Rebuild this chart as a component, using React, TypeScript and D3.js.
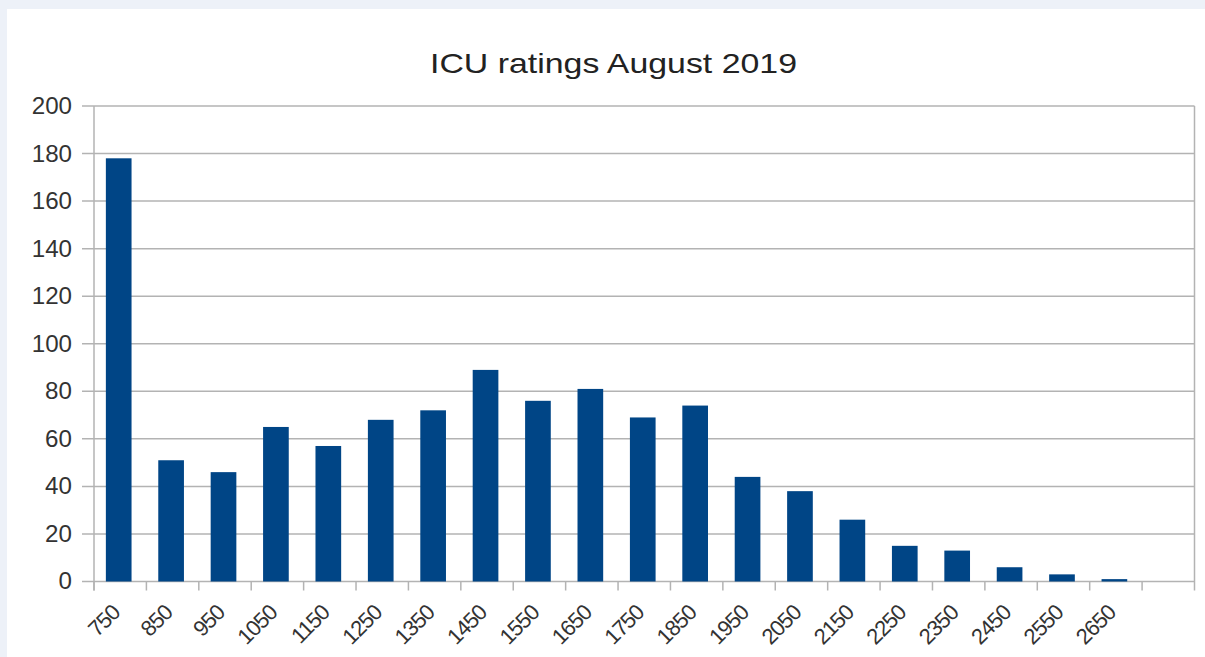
import React from "react";
import * as d3 from "d3";

const categories = ["750","850","950","1050","1150","1250","1350","1450","1550","1650","1750","1850","1950","2050","2150","2250","2350","2450","2550","2650",""];
const counts = [178,51,46,65,57,68,72,89,76,81,69,74,44,38,26,15,13,6,3,1,0];
const yTicks = [0,20,40,60,80,100,120,140,160,180,200];
const title = "ICU ratings August 2019";

const W = 1205, H = 657;
const L = 94, R = 1194.5, T = 106, B = 581.5;

export default function App() {
  const keys = categories.map((c, i) => i + ":" + c);
  const x = d3.scaleBand<string>().domain(keys).range([L, R]).paddingInner(0).paddingOuter(0);
  const y = d3.scaleLinear().domain([0, 200]).range([B, T]);
  const bw = x.bandwidth();
  const barW = bw * 0.49;
  const font = "'Liberation Sans', Arial, sans-serif";
  return (
    <svg width={W} height={H} style={{ position: "absolute", left: 0, top: 0 }} fontFamily={font}>
      <rect x={0} y={0} width={W} height={H} fill="#edf1f8" />
      <rect x={7} y={9} width={W - 7} height={H - 9} fill="#ffffff" />
      <text x={430} y={73} fontSize={28} fill="#222" textLength={367} lengthAdjust="spacingAndGlyphs">{title}</text>
      {yTicks.map(t => (
        <g key={t}>
          <line x1={82} x2={R} y1={y(t)} y2={y(t)} stroke="#b3b3b3" strokeWidth={1.5} />
          <text x={72} y={y(t) + 8} textAnchor="end" fontSize={23} fill="#333" transform={`translate(72 0) scale(1.05 1) translate(-72 0)`}>{t}</text>
        </g>
      ))}
      <line x1={L} x2={L} y1={T} y2={B + 9} stroke="#b3b3b3" strokeWidth={1.5} />
      <line x1={R} x2={R} y1={T} y2={B + 9} stroke="#b3b3b3" strokeWidth={1.5} />
      {keys.map((k, i) => (
        <line key={"t" + i} x1={x(k)!} x2={x(k)!} y1={B} y2={B + 9} stroke="#b3b3b3" strokeWidth={1.5} />
      ))}
      {keys.map((k, i) => {
        const cx = x(k)! + bw / 2 - 1.5;
        return (
          <rect key={"b" + i} x={cx - barW / 2} y={y(counts[i])} width={barW} height={B - y(counts[i])} fill="#004586" />
        );
      })}
      {keys.map((k, i) => {
        if (!categories[i]) return null;
        const cx = x(k)! + bw / 2 + 1;
        const cy = 614;
        return (
          <text key={"l" + i} x={cx} y={cy} textAnchor="end" fontSize={22} letterSpacing={-1} fill="#333" transform={`rotate(-45 ${cx} ${cy})`}>{categories[i]}</text>
        );
      })}
    </svg>
  );
}
